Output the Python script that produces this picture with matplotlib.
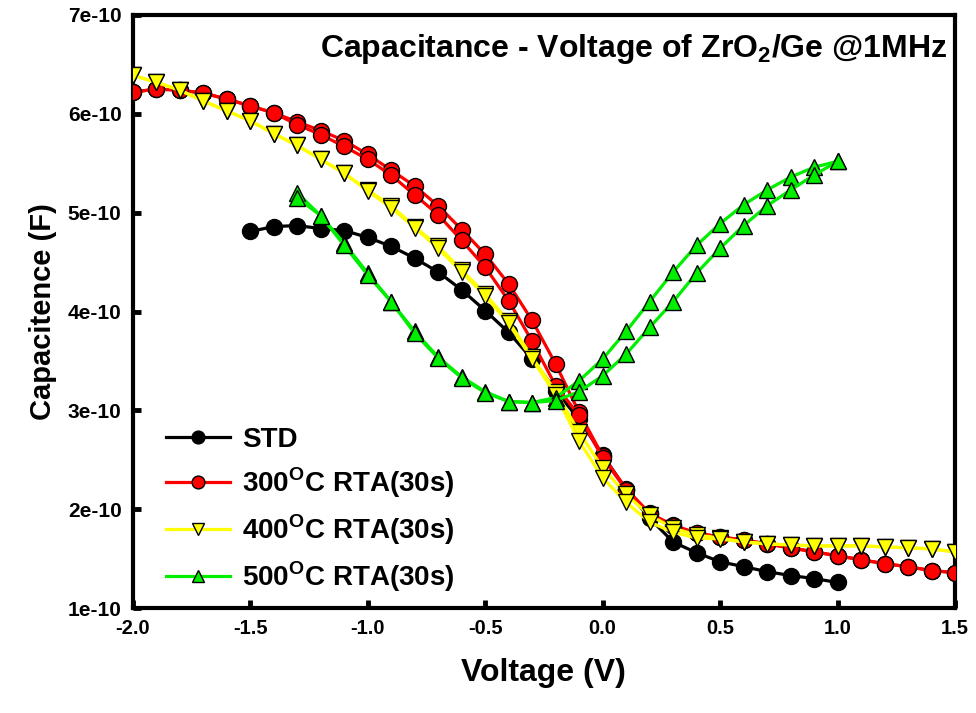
import numpy as np
import matplotlib
matplotlib.use("Agg")
import matplotlib.pyplot as plt

plt.rcParams['font.family'] = ['Liberation Sans', 'DejaVu Sans']
plt.rcParams['font.weight'] = 'bold'
plt.rcParams['mathtext.fontset'] = 'custom'
plt.rcParams['mathtext.rm'] = 'Liberation Sans:bold'
plt.rcParams['mathtext.bf'] = 'Liberation Sans:bold'

# STD
v_std = [-1.5, -1.4, -1.3, -1.2, -1.1, -1.0, -0.9, -0.8, -0.7, -0.6, -0.5, -0.4, -0.3, -0.2, -0.1,
         0.0, 0.1, 0.2, 0.3, 0.4, 0.5, 0.6, 0.7, 0.8, 0.9, 1.0]
c_std = [4.81, 4.86, 4.87, 4.84, 4.82, 4.75, 4.66, 4.54, 4.40, 4.22, 4.01, 3.79, 3.52, 3.20, 2.91,
         2.55, 2.20, 1.91, 1.67, 1.56, 1.47, 1.42, 1.37, 1.33, 1.30, 1.26]

# 300C RTA (two sweeps)
v_300 = [-2.0, -1.9, -1.8, -1.7, -1.6, -1.5, -1.4, -1.3, -1.2, -1.1, -1.0, -0.9, -0.8, -0.7, -0.6,
         -0.5, -0.4, -0.3, -0.2, -0.1, 0.0, 0.1, 0.2, 0.3, 0.4, 0.5, 0.6, 0.7, 0.8, 0.9, 1.0,
         1.1, 1.2, 1.3, 1.4, 1.5]
c_300a = [6.22, 6.25, 6.24, 6.21, 6.15, 6.08, 6.01, 5.92, 5.83, 5.73, 5.59, 5.43, 5.27, 5.07, 4.83,
          4.58, 4.28, 3.91, 3.47, 2.98, 2.54, 2.21, 1.96, 1.84, 1.76, 1.72, 1.69, 1.65, 1.61, 1.57,
          1.53, 1.49, 1.45, 1.42, 1.38, 1.36]
c_300b = [6.22, 6.25, 6.24, 6.21, 6.15, 6.08, 6.01, 5.89, 5.79, 5.67, 5.54, 5.38, 5.18, 4.98, 4.72,
          4.45, 4.11, 3.70, 3.25, 2.95, 2.52, 2.20, 1.95, 1.83, 1.76, 1.72, 1.69, 1.65, 1.61, 1.57,
          1.53, 1.49, 1.45, 1.42, 1.38, 1.36]

# 400C RTA (two sweeps)
v_400 = v_300
c_400a = [6.39, 6.32, 6.24, 6.13, 6.03, 5.93, 5.80, 5.68, 5.54, 5.40, 5.23, 5.07, 4.86, 4.66, 4.42,
          4.18, 3.90, 3.54, 3.19, 2.78, 2.42, 2.15, 1.94, 1.81, 1.74, 1.71, 1.67, 1.65, 1.64, 1.63,
          1.63, 1.63, 1.62, 1.61, 1.60, 1.57]
c_400b = [6.39, 6.32, 6.24, 6.13, 6.03, 5.93, 5.80, 5.68, 5.54, 5.40, 5.22, 5.05, 4.85, 4.64, 4.40,
          4.16, 3.88, 3.52, 3.16, 2.69, 2.32, 2.07, 1.87, 1.77, 1.71, 1.70, 1.67, 1.65, 1.64, 1.63,
          1.63, 1.63, 1.62, 1.61, 1.60, 1.57]

# 500C RTA (two sweeps)
v_500 = [-1.3, -1.2, -1.1, -1.0, -0.9, -0.8, -0.7, -0.6, -0.5, -0.4, -0.3, -0.2, -0.1,
         0.0, 0.1, 0.2, 0.3, 0.4, 0.5, 0.6, 0.7, 0.8, 0.9, 1.0]
c_500a = [5.20, 4.97, 4.69, 4.39, 4.10, 3.80, 3.54, 3.34, 3.19, 3.09, 3.08, 3.13, 3.30,
          3.52, 3.80, 4.10, 4.40, 4.67, 4.89, 5.08, 5.23, 5.36, 5.46, 5.52]
c_500b = [5.15, 4.97, 4.67, 4.37, 4.10, 3.78, 3.53, 3.33, 3.18, 3.09, 3.08, 3.10, 3.19,
          3.35, 3.57, 3.84, 4.10, 4.39, 4.64, 4.87, 5.07, 5.23, 5.38, 5.52]

x_ticks = [-2.0, -1.5, -1.0, -0.5, 0.0, 0.5, 1.0, 1.5]
x_tick_labels = ['-2.0', '-1.5', '-1.0', '-0.5', '0.0', '0.5', '1.0', '1.5']
y_ticks = [1e-10, 2e-10, 3e-10, 4e-10, 5e-10, 6e-10, 7e-10]
y_tick_labels = ['1e-10', '2e-10', '3e-10', '4e-10', '5e-10', '6e-10', '7e-10']

scale = 1e-10

fig = plt.figure(figsize=(9.76, 7.13), dpi=100)
ax = fig.add_axes([0.136, 0.147, 0.8425, 0.832])

ms = 11.5
lw = 2.3
mew = 1.0

series = [
    (v_std, [c_std], 'black', 'o', 'STD'),
    (v_300, [c_300a, c_300b], '#ff0000', 'o', '300$^{\\mathbf{O}}$C RTA(30s)'),
    (v_400, [c_400a, c_400b], '#ffff00', 'v', '400$^{\\mathbf{O}}$C RTA(30s)'),
    (v_500, [c_500a, c_500b], '#00ee00', '^', '500$^{\\mathbf{O}}$C RTA(30s)'),
]

handles = []
for z, (v, cs, col, mk, lab) in enumerate(series):
    for i, c in enumerate(cs):
        ln, = ax.plot(v, np.array(c) * scale, color=col, lw=lw, marker=mk, ms=ms,
                      mfc=col, mec='black', mew=mew, zorder=3 + z,
                      label=lab if i == 0 else None)
        if i == 0:
            handles.append(ln)

ax.set_xlim(-2.0, 1.5)
ax.set_ylim(1e-10, 7e-10)
ax.set_xticks(x_ticks)
ax.set_xticklabels(x_tick_labels)
ax.set_yticks(y_ticks)
ax.set_yticklabels(y_tick_labels)
ax.tick_params(direction='in', length=6, width=3.5, pad=8)
ax.tick_params(axis='x', labelsize=14.5)
ax.tick_params(axis='y', labelsize=15)
for lab in ax.get_xticklabels() + ax.get_yticklabels():
    lab.set_fontweight('bold')
for sp in ax.spines.values():
    sp.set_linewidth(3)

ax.set_xlabel('Voltage (V)', fontsize=23, fontweight='bold', labelpad=14)
ax.set_ylabel('Capacitence (F)', fontsize=21, fontweight='bold', labelpad=8)

ax.text(0.99, 0.972, 'Capacitance - Voltage of ZrO$_2$/Ge @1MHz', transform=ax.transAxes,
        ha='right', va='top', fontsize=23, fontweight='bold')

leg = ax.legend(handles=handles, loc='lower left', bbox_to_anchor=(0.01, -0.018), frameon=False,
                prop={'weight': 'bold', 'size': 20}, markerscale=0.8,
                handlelength=2.3, handletextpad=0.45, labelspacing=0.45)

fig.savefig('out.png', dpi=100)
